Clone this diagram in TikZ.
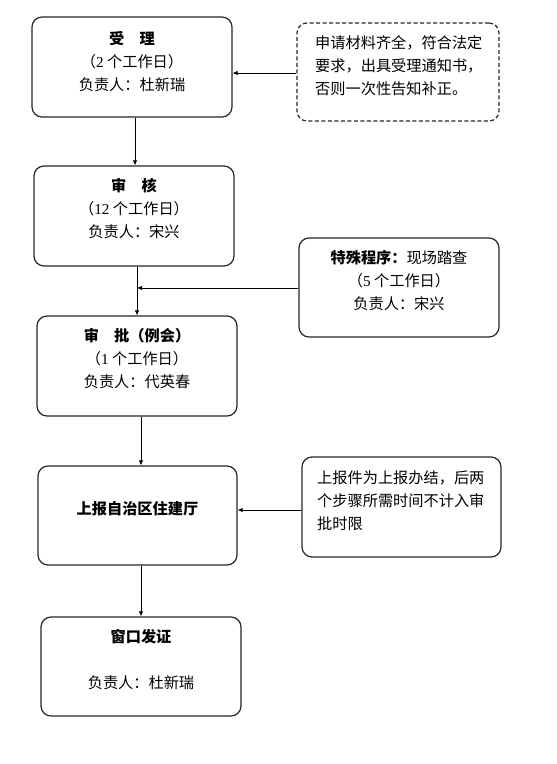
\documentclass[tikz,border=0pt]{standalone}
\usepackage{fontspec}
\setmainfont{Noto Sans CJK SC}
\newfontfamily\numfont{Liberation Serif}
\usetikzlibrary{arrows.meta}
\tikzset{
  box/.style={draw=black!85, line width=1.2pt, rounded corners=10pt, minimum width=200pt, minimum height=100pt, inner sep=0pt},
  dbox/.style={box, dash pattern=on 4pt off 2.5pt},
  txt/.style={align=center, inner sep=0pt, font=\fontsize{15.2}{23}\selectfont},
  ltxt/.style={align=left, inner sep=0pt, font=\fontsize{15.2}{23}\selectfont},
  conn/.style={draw=black, line width=0.8pt, -{Latex[length=5pt,width=4.5pt]}}
}
\begin{document}
\begin{tikzpicture}[x=1pt,y=-1pt]
\useasboundingbox (0,0) rectangle (557,764);
% boxes
\node[box] (b1) at (132,67) {};
\node[txt] (t1) at (132,62) {\textbf{受　理}\\（{\numfont 2} 个工作日）\\负责人：杜新瑞};
\node[dbox, minimum width=202pt, minimum height=98pt] (d1) at (398,72) {};
\node[ltxt, anchor=west] (td1) at (315,66) {申请材料齐全，符合法定\\要求，出具受理通知书，\\否则一次性告知补正。};
\node[box] (b2) at (134,216) {};
\node[txt] (t2) at (134,209) {\textbf{审　核}\\（{\numfont 12} 个工作日）\\负责人：宋兴};
\node[box, minimum height=99pt] (b3) at (399,287.5) {};
\node[txt] (t3) at (399,281) {\textbf{特殊程序：}现场踏查\\（{\numfont 5} 个工作日）\\负责人：宋兴};
\node[box] (b4) at (137,366) {};
\node[txt] (t4) at (137,359) {\textbf{审　批（例会）}\\（{\numfont 1} 个工作日）\\负责人：代英春};
\node[box, minimum width=199pt, minimum height=99pt] (b5) at (137.5,515.5) {};
\node[txt] (t5) at (137.5,509) {\textbf{上报自治区住建厅}};
\node[box, minimum width=199pt] (b6) at (401.5,507) {};
\node[ltxt, anchor=west] (t6) at (317,501) {上报件为上报办结，后两\\个步骤所需时间不计入审\\批时限};
\node[box, minimum height=99pt] (b7) at (141,666.5) {};
\node[txt] (t7) at (141,660) {\textbf{窗口发证}\\[23pt]负责人：杜新瑞};
% connectors
\coordinate (j1) at (137,288);
\draw[conn] (b1.south -| 135,0) -- (b2.north -| 135,0);
\draw[conn] (b2.south -| 137,0) -- (b4.north -| 137,0);
\draw[conn] (b4.south -| 141,0) -- (b5.north -| 141,0);
\draw[conn] (b5.south -| 141,0) -- (b7.north -| 141,0);
\draw[conn] (d1.west |- 0,73) -- (b1.east |- 0,73);
\draw[conn] (b3.west |- j1) -- (j1);
\draw[conn] (b6.west |- 0,510) -- (b5.east |- 0,510);
\end{tikzpicture}
\end{document}
